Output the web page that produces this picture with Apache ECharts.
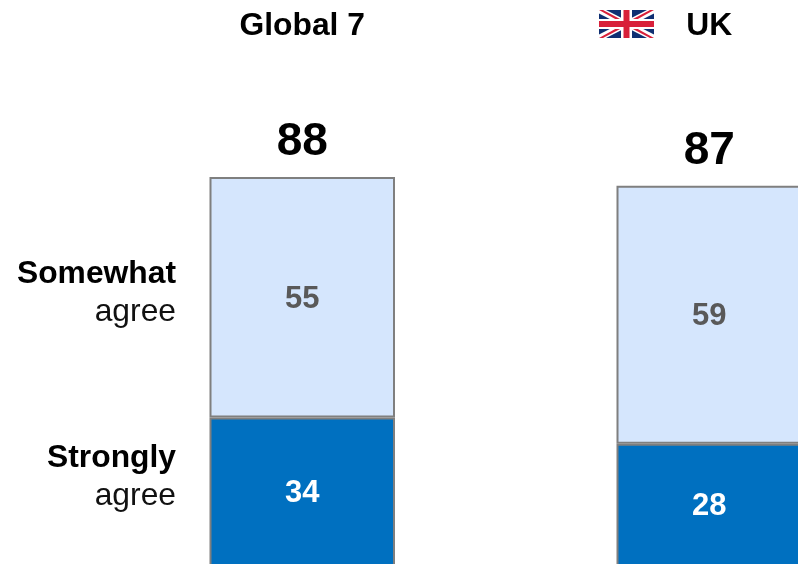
<!DOCTYPE html>
<html>
<head>
<meta charset="utf-8">
<style>html,body{margin:0;padding:0;background:#fff;overflow:hidden}#chart{width:798px;height:564px}</style>
<script src="https://cdn.jsdelivr.net/npm/echarts@6/dist/echarts.min.js"></script>
</head>
<body>
<div id="chart"></div>
<script>
const regions = ['Global 7', 'UK'];
const stronglyAgree = [34, 28];
const somewhatAgree = [55, 59];
const totals = [88, 87];
const topOfStack = [0, 0];

const FONT = '"Liberation Sans", Arial, sans-serif';
const BORDER = '#7f7f7f';

function segment(name, values, fill, labelColor) {
  return {
    name, type: 'bar', stack: 'agree', data: values, barWidth: 185.5,
    itemStyle: { color: fill, borderColor: BORDER, borderWidth: 2 },
    label: {
      show: true, position: 'inside', offset: [0, 2], color: labelColor,
      fontFamily: FONT, fontWeight: 'bold', fontSize: 31
    },
    silent: true
  };
}

// Row caption on the left: bold first word, regular second line.
function rowCaption(y, first, second) {
  return {
    type: 'text', x: 176, y,
    style: {
      text: `{b|${first}}\n{r|${second}}`,
      align: 'right', verticalAlign: 'middle',
      rich: {
        b: { font: `bold 31.8px ${FONT}`, fill: '#000', lineHeight: 38, align: 'right' },
        r: { font: `31.8px ${FONT}`, fill: '#111', lineHeight: 38, align: 'right' }
      }
    }
  };
}

// Union flag built from simple shapes, 55 x 28 px.
function poly(points, fill) {
  return { type: 'polygon', shape: { points }, style: { fill } };
}
function unionFlag(x, y) {
  const w = 55, h = 28, red = '#d8203a', blue = '#0f2f72', white = '#fff';
  return {
    type: 'group', x, y,
    children: [
      { type: 'rect', shape: { x: 0, y: 0, width: w, height: h }, style: { fill: blue } },
      poly([[0,0],[7,0],[w,h-3.5],[w,h],[w-7,h],[0,3.5]], white),
      poly([[w,0],[w-7,0],[0,h-3.5],[0,h],[7,h],[w,3.5]], white),
      poly([[0,0],[4,0],[23,10],[18,10]], red),
      poly([[w,0],[w-4,0],[32,10],[37,10]], red),
      poly([[0,h],[4,h],[23,18],[18,18]], red),
      poly([[w,h],[w-4,h],[32,18],[37,18]], red),
      { type: 'rect', shape: { x: 0, y: 9, width: w, height: 10 }, style: { fill: white } },
      { type: 'rect', shape: { x: 22, y: 0, width: 11, height: h }, style: { fill: white } },
      { type: 'rect', shape: { x: 0, y: 11, width: w, height: 6 }, style: { fill: red } },
      { type: 'rect', shape: { x: 24.5, y: 0, width: 6, height: h }, style: { fill: red } }
    ]
  };
}

const chart = echarts.init(document.getElementById('chart'), null, { renderer: 'canvas' });
chart.setOption({
  animation: false,
  backgroundColor: '#fff',
  grid: { left: 98.75, top: 129, width: 814, height: 437, containLabel: false, outerBoundsMode: 'none' },
  xAxis: {
    type: 'category', data: regions, position: 'top',
    axisLine: { show: false }, axisTick: { show: false },
    axisLabel: {
      show: true, margin: 87, color: '#000',
      fontFamily: FONT, fontWeight: 'bold', fontSize: 31.8
    }
  },
  yAxis: { type: 'value', min: 0, max: 100, show: false },
  series: [
    segment('Strongly agree', stronglyAgree, '#0070c0', '#fff'),
    segment('Somewhat agree', somewhatAgree, '#d5e6fd', '#595959'),
    {
      name: 'Total', type: 'bar', stack: 'agree', data: topOfStack, barWidth: 185.5,
      itemStyle: { color: 'transparent', borderWidth: 0 },
      label: {
        show: true, position: 'top', distance: 11.5, color: '#000',
        fontFamily: FONT, fontWeight: 'bold', fontSize: 46,
        formatter: p => totals[p.dataIndex]
      },
      silent: true
    }
  ],
  graphic: [
    rowCaption(293, 'Somewhat', 'agree'),
    rowCaption(477, 'Strongly', 'agree'),
    unionFlag(599, 10)
  ]
});
</script>
</body>
</html>
